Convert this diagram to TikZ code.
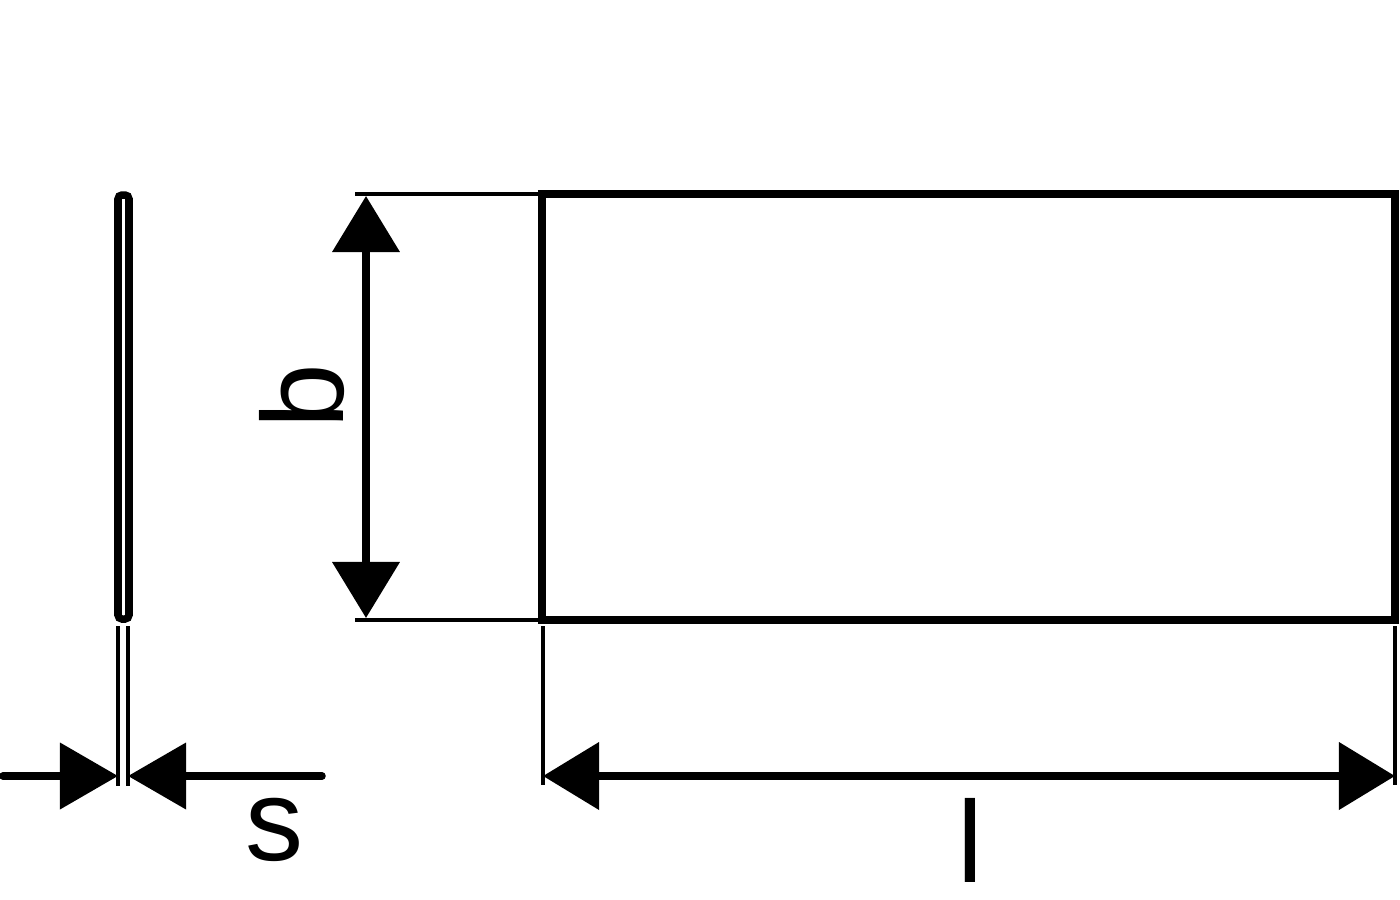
\documentclass[tikz,border=0pt]{standalone}
\usepackage{fontspec}
\setmainfont{Liberation Sans}
\usetikzlibrary{arrows.meta}
\tikzset{
  outline/.style={line width=0.75mm},
  plate/.style={line width=0.75mm,rounded corners=0.4mm},
  thinline/.style={line width=0.4mm},
  dimline/.style={line width=0.75mm,{Triangle[length=5.6mm,width=6.6mm]}-{Triangle[length=5.6mm,width=6.6mm]}},
  pointer/.style={line width=0.75mm,line cap=round,-{Triangle[length=5.8mm,width=6.5mm]}},
  dimlabel/.style={font=\fontsize{33}{33}\selectfont,inner sep=0pt}
}
\begin{document}
\begin{tikzpicture}[x=0.01cm,y=-0.01cm]
\useasboundingbox (0,0) rectangle (1400,900);
\coordinate (tl) at (542,194);
\coordinate (br) at (1395,620);
\draw[outline] (tl) rectangle (br);
\draw[plate] (118,195) rectangle (129,619);
\coordinate (sa) at (118,626);
\coordinate (sb) at (128,626);
\coordinate (sa2) at (118,786);
\coordinate (sb2) at (128,786);
\draw[thinline] (sa) -- (sa2);
\draw[thinline] (sb) -- (sb2);
\coordinate (sleft) at (3,776);
\coordinate (sright) at (322,776);
\coordinate (stipl) at (118,776);
\coordinate (stipr) at (128,776);
\draw[pointer] (sleft) -- (stipl);
\draw[pointer] (sright) -- (stipr);
\node[dimlabel] (s) at (275,830) {s};
\coordinate (bt1) at (355,194);
\coordinate (bt2) at (538,194);
\coordinate (bb1) at (355,620);
\coordinate (bb2) at (538,620);
\draw[thinline] (bt1) -- (bt2);
\draw[thinline] (bb1) -- (bb2);
\coordinate (btop) at (366,196);
\coordinate (bbot) at (366,618);
\draw[dimline] (btop) -- (bbot);
\node[dimlabel,rotate=90] (b) at (302,396) {b};
\coordinate (ll1) at (543,626);
\coordinate (ll2) at (543,785);
\coordinate (lr1) at (1395,626);
\coordinate (lr2) at (1395,785);
\draw[thinline] (ll1) -- (ll2);
\draw[thinline] (lr1) -- (lr2);
\coordinate (lleft) at (543,776);
\coordinate (lright) at (1395,776);
\draw[dimline] (lleft) -- (lright);
\node[dimlabel] (l) at (970,840) {l};
\end{tikzpicture}
\end{document}
